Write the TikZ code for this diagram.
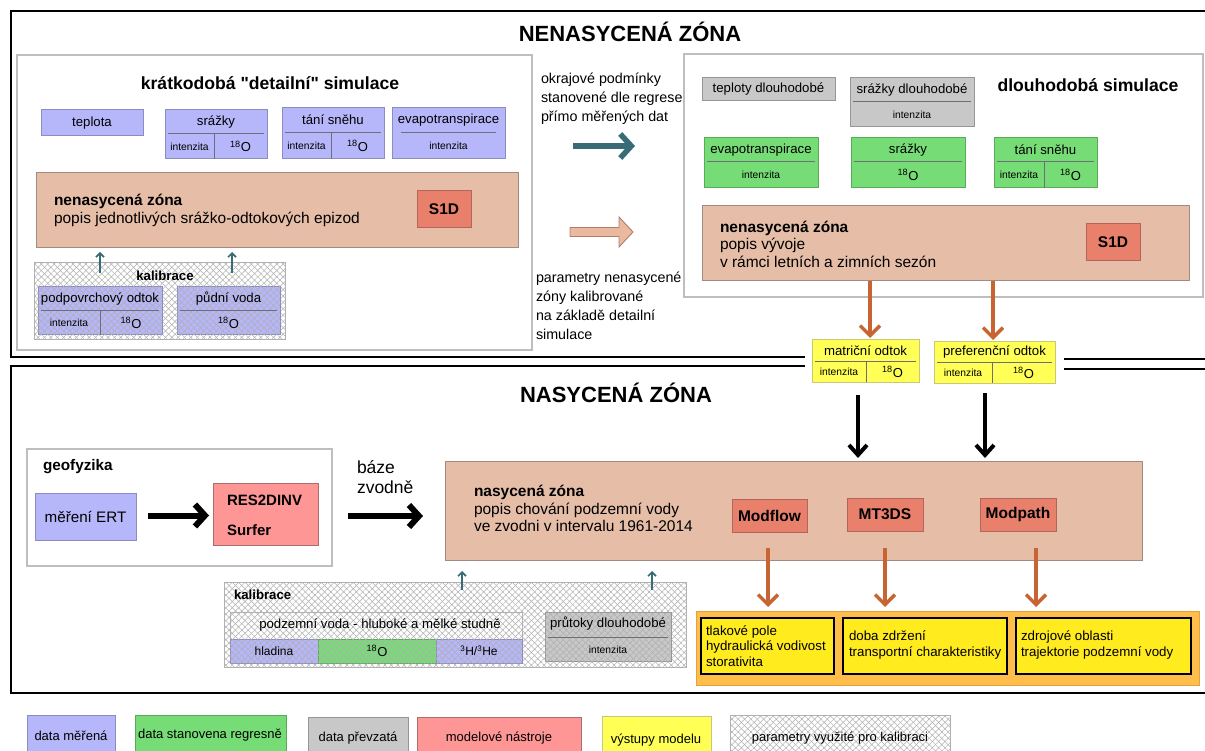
\documentclass[tikz,border=0pt]{standalone}
\usepackage{fontspec}
\setmainfont{Liberation Sans}[Ligatures=TeXOff]
\usetikzlibrary{arrows.meta,calc,patterns.meta}

\definecolor{cMeas}{RGB}{182,182,250}
\definecolor{cMeasD}{RGB}{140,140,190}
\definecolor{cRegr}{RGB}{118,220,118}
\definecolor{cRegrD}{RGB}{90,170,90}
\definecolor{cTaken}{RGB}{200,200,200}
\definecolor{cTakenD}{RGB}{150,150,150}
\definecolor{cPink}{RGB}{255,150,150}
\definecolor{cPinkD}{RGB}{170,110,110}
\definecolor{cTool}{RGB}{232,128,108}
\definecolor{cToolD}{RGB}{180,100,90}
\definecolor{cZone}{RGB}{230,190,168}
\definecolor{cZoneD}{RGB}{160,140,130}
\definecolor{cYel}{RGB}{255,255,85}
\definecolor{cYelD}{RGB}{200,200,120}
\definecolor{cOutY}{RGB}{255,235,30}
\definecolor{cOrBox}{RGB}{255,190,75}
\definecolor{cOrBoxD}{RGB}{230,160,60}
\definecolor{cTeal}{RGB}{55,108,118}
\definecolor{cOrArr}{RGB}{200,100,50}
\definecolor{cPeach}{RGB}{235,185,160}
\definecolor{cPeachD}{RGB}{180,125,105}
\definecolor{cHatch}{RGB}{175,175,175}
\definecolor{cPanel}{RGB}{190,190,190}
\definecolor{cDiv}{RGB}{110,110,120}

\newcommand{\fsz}[2]{\fontsize{#1pt}{#2pt}\selectfont}
\newcommand{\hdiv}[3][3]{\draw[div] ($(#2.north west)+(#1,#3)$) -- ($(#2.north east)+(-#1,#3)$);}
\newcommand{\vdiv}[3]{\draw[div] ($(#1.north west)+(#2,#3)$) -- ($(#1.south west)+(#2,0)$);}
\newcommand{\iso}{\textsuperscript{18}O}

\tikzset{
  bx/.style={inner sep=0pt, outer sep=0pt, anchor=north west, line width=1pt},
  meas/.style={bx, fill=cMeas, draw=cMeasD},
  regr/.style={bx, fill=cRegr, draw=cRegrD},
  taken/.style={bx, fill=cTaken, draw=cTakenD},
  pinkb/.style={bx, fill=cPink, draw=cPinkD},
  tool/.style={bx, fill=cTool, draw=cToolD, font=\bfseries\fsz{15.5}{18}},
  zone/.style={bx, fill=cZone, draw=cZoneD},
  yel/.style={bx, fill=cYel, draw=cYelD},
  outy/.style={bx, fill=cOutY, draw=black, line width=2.2pt},
  panel/.style={bx, fill=white, draw=cPanel, line width=1.3pt},
  hatched/.style={postaction={pattern={Lines[angle=45,distance=4.5pt,line width=0.5pt]}, pattern color=cHatch},
                  postaction={pattern={Lines[angle=-45,distance=4.5pt,line width=0.5pt]}, pattern color=cHatch}},
  hatchbox/.style={bx, fill=white, draw=gray!60, hatched},
  div/.style={draw=cDiv, line width=1pt},
  t/.style={inner sep=0pt, outer sep=0pt, font=\fsz{13.2}{16}},
  ts/.style={inner sep=0pt, outer sep=0pt, font=\fsz{10.3}{12}},
  tiso/.style={inner sep=0pt, outer sep=0pt, font=\fsz{13}{15}},
  lw/.style={inner sep=0pt, outer sep=0pt, anchor=west},
  frameline/.style={draw=black, line width=2.5pt},
  tealthin/.style={draw=cTeal, line width=1.6pt, -{Straight Barb[length=4pt,width=8pt]}},
  tealthick/.style={draw=cTeal, line width=5.5pt, -{Straight Barb[length=11pt,width=24pt]}},
  orarr/.style={draw=cOrArr, line width=3.5pt, -{Straight Barb[length=10pt,width=20pt]}},
  blkarr/.style={draw=black, line width=4pt, -{Straight Barb[length=10pt,width=18pt]}},
  blkH/.style={draw=black, line width=6pt, -{Straight Barb[length=10pt,width=22pt]}},
}

\begin{document}
\begin{tikzpicture}[x=1pt,y=-1pt]
\useasboundingbox (0,0) rectangle (1205,751);

% ---------- frames ----------
\draw[frameline] (1205,11) -- (11,11) -- (11,357) -- (805,357);
\draw[frameline] (1064,359) -- (1205,359);
\draw[frameline] (805,366) -- (11,366) -- (11,693) -- (1205,693);
\draw[frameline] (1064,369) -- (1205,369);

\node[font=\bfseries\fsz{22}{26}] (tNen) at (630,32) {NENASYCENÁ ZÓNA};
\node[font=\bfseries\fsz{22}{26}] (tNas) at (616,393) {NASYCENÁ ZÓNA};

% ---------- left panel: short-term simulation ----------
\node[panel, minimum width=515pt, minimum height=295pt] (lp) at (17,55) {};
\node[font=\bfseries\fsz{17.6}{21}] (lpT) at (270,83) {krátkodobá "detailní" simulace};

\node[meas, minimum width=102pt, minimum height=26pt, font=\fsz{13.2}{16}] (tep) at (41,110) {teplota};

\node[meas, minimum width=102pt, minimum height=49pt] (srL) at (165,110) {};
\node[t] (srLt) at ($(srL.north)+(0,12)$) {srážky};
\hdiv{srL}{24}
\vdiv{srL}{49}{24}
\node[ts] (srLa) at ($(srL.north west)+(24.5,36.5)$) {intenzita};
\node[tiso] (srLb) at ($(srL.north west)+(75.5,36.5)$) {\iso};

\node[meas, minimum width=102pt, minimum height=51pt] (tsL) at (282,108) {};
\node[t] (tsLt) at ($(tsL.north)+(0,12)$) {tání sněhu};
\hdiv{tsL}{25}
\vdiv{tsL}{49}{25}
\node[ts] (tsLa) at ($(tsL.north west)+(24.5,38)$) {intenzita};
\node[tiso] (tsLb) at ($(tsL.north west)+(75.5,38)$) {\iso};

\node[meas, minimum width=113pt, minimum height=51pt] (evL) at (392,108) {};
\node[t] (evLt) at ($(evL.north)+(0,12)$) {evapotranspirace};
\hdiv[9]{evL}{25}
\node[ts] (evLa) at ($(evL.north west)+(56.5,38)$) {intenzita};

\node[zone, minimum width=482pt, minimum height=75pt] (zoneL) at (36,173) {};
\node[lw, font=\bfseries\fsz{15.5}{18}] (zLa) at (54,201) {nenasycená zóna};
\node[lw, font=\fsz{15.5}{18}] (zLb) at (54,219) {popis jednotlivých srážko-odtokových epizod};
\node[tool, minimum width=54pt, minimum height=37pt] (s1dL) at (417,191) {S1D};

\node[hatchbox, minimum width=251pt, minimum height=77pt] (kalL) at (34,263) {};
\node[font=\bfseries\fsz{13.2}{16}, inner sep=0pt] (kalLt) at (165,276) {kalibrace};

\node[meas, hatched, minimum width=124pt, minimum height=48pt] (pod) at (38,287) {};
\node[t] (podt) at ($(pod.north)+(0,12)$) {podpovrchový odtok};
\hdiv{pod}{24}
\vdiv{pod}{62}{24}
\node[ts] (poda) at ($(pod.north west)+(31,36)$) {intenzita};
\node[tiso] (podb) at ($(pod.north west)+(93,36)$) {\iso};

\node[meas, hatched, minimum width=103pt, minimum height=48pt] (pud) at (177,287) {};
\node[t] (pudt) at ($(pud.north)+(0,12)$) {půdní voda};
\hdiv{pud}{24}
\node[tiso] (pudb) at ($(pud.north west)+(51.5,36)$) {\iso};

\draw[tealthin] ($(kalL.north west)+(66,10)$) -- ($(zoneL.south west)+(64,4)$);
\draw[tealthin] ($(kalL.north west)+(198,10)$) -- ($(zoneL.south west)+(196,4)$);

% ---------- middle texts and arrows ----------
\node[lw, align=left, font=\fsz{14.3}{19}] (okr) at (541,99) {okrajové podmínky\\stanovené dle regrese\\přímo měřených dat};
\coordinate (tA1) at (573,146);
\coordinate (tA2) at (635,146);
\draw[tealthick] (tA1) -- (tA2);

\draw[draw=cPeachD, fill=cPeach, line width=0.9pt]
  (570,227.5) -- (619,227.5) -- (619,217) -- (633,232) -- (619,247) -- (619,236.5) -- (570,236.5) -- cycle;

\node[lw, align=left, font=\fsz{14.3}{19}] (par) at (536,306) {parametry nenasycené\\zóny kalibrované\\na základě detailní\\simulace};

% ---------- right panel: long-term simulation ----------
\node[panel, minimum width=519pt, minimum height=243pt] (rp) at (684,54) {};
\node[font=\bfseries\fsz{17.6}{21}] (rpT) at (1088,85) {dlouhodobá simulace};

\node[taken, minimum width=133pt, minimum height=23pt, font=\fsz{13.2}{16}] (tepD) at (702,78) {teploty dlouhodobé};

\node[taken, minimum width=124pt, minimum height=49pt] (srD) at (850,78) {};
\node[t] (srDt) at ($(srD.north)+(0,12)$) {srážky dlouhodobé};
\hdiv{srD}{24}
\node[ts] (srDa) at ($(srD.north west)+(62,37)$) {intenzita};

\node[regr, minimum width=114pt, minimum height=50pt] (evR) at (704,138) {};
\node[t] (evRt) at ($(evR.north)+(0,12)$) {evapotranspirace};
\hdiv{evR}{24}
\node[ts] (evRa) at ($(evR.north west)+(57,37)$) {intenzita};

\node[regr, minimum width=114pt, minimum height=50pt] (srR) at (851,138) {};
\node[t] (srRt) at ($(srR.north)+(0,12)$) {srážky};
\hdiv{srR}{24}
\node[tiso] (srRb) at ($(srR.north west)+(57,37)$) {\iso};

\node[regr, minimum width=103pt, minimum height=50pt] (tsR) at (994,138) {};
\node[t] (tsRt) at ($(tsR.north)+(0,12)$) {tání sněhu};
\hdiv{tsR}{24}
\vdiv{tsR}{50}{24}
\node[ts] (tsRa) at ($(tsR.north west)+(25,37)$) {intenzita};
\node[tiso] (tsRb) at ($(tsR.north west)+(76.5,37)$) {\iso};

\node[zone, minimum width=487pt, minimum height=75pt] (zoneR) at (702,206) {};
\node[lw, font=\bfseries\fsz{15.5}{18}] (zRa) at (720,228) {nenasycená zóna};
\node[lw, font=\fsz{15.5}{18}] (zRb) at (720,245) {popis vývoje};
\node[lw, font=\fsz{15.5}{18}] (zRc) at (720,262) {v rámci letních a zimních sezón};
\node[tool, minimum width=54pt, minimum height=37pt] (s1dR) at (1086,224) {S1D};

% ---------- yellow outflow boxes ----------
\node[yel, minimum width=107pt, minimum height=42pt] (mat) at (812,340) {};
\node[t] (matt) at ($(mat.north)+(0,11)$) {matriční odtok};
\hdiv{mat}{21}
\vdiv{mat}{54}{21}
\node[ts] (mata) at ($(mat.north west)+(27,32)$) {intenzita};
\node[tiso] (matb) at ($(mat.north west)+(80.5,32)$) {\iso};

\node[yel, minimum width=121pt, minimum height=41pt] (pref) at (934,342) {};
\node[t] (preft) at ($(pref.north)+(0,10)$) {preferenční odtok};
\hdiv{pref}{20}
\vdiv{pref}{58}{20}
\node[ts] (prefa) at ($(pref.north west)+(29,31)$) {intenzita};
\node[tiso] (prefb) at ($(pref.north west)+(89.5,31)$) {\iso};

\draw[orarr] ($(zoneR.south west)+(168,0)$) -- ($(mat.north)+(4.5,-2)$);
\draw[orarr] ($(zoneR.south west)+(291,0)$) -- ($(pref.north)+(-1.5,-2)$);

% ---------- bottom: saturated zone ----------
\node[panel, minimum width=305pt, minimum height=117pt] (geo) at (27,449) {};
\node[lw, font=\bfseries\fsz{15.3}{18}] (geot) at (43,467) {geofyzika};
\node[meas, minimum width=101pt, minimum height=47pt, font=\fsz{15.2}{18}] (ert) at (35,493) {měření ERT};
\node[pinkb, minimum width=105pt, minimum height=62pt] (res) at (213,483) {};
\node[lw, font=\bfseries\fsz{15}{18}] (resa) at (227,500) {RES2DINV};
\node[lw, font=\bfseries\fsz{15}{18}] (resb) at (227,530) {Surfer};
\draw[blkH] ($(ert.east)+(12,-1)$) -- ($(res.west)+(-4,1.5)$);

\node[lw, align=left, font=\fsz{17.5}{20}] (baze) at (357,477) {báze\\zvodně};

\node[zone, minimum width=697pt, minimum height=99pt] (zoneB) at (445,461) {};
\draw[blkH] ($(geo.east)+(16,8.5)$) -- ($(zoneB.west)+(-22,5.5)$);
\node[lw, font=\bfseries\fsz{15.5}{18}] (zBa) at (474,492) {nasycená zóna};
\node[lw, font=\fsz{15.5}{18}] (zBb) at (474,510) {popis chování podzemní vody};
\node[lw, font=\fsz{15.5}{18}] (zBc) at (474,526) {ve zvodni v intervalu 1961-2014};

\node[tool, minimum width=75pt, minimum height=33pt] (modf) at (732,499) {Modflow};
\node[tool, minimum width=76pt, minimum height=33pt] (mt3) at (847,498) {MT3DS};
\node[tool, minimum width=76pt, minimum height=33pt] (modp) at (980,498) {Modpath};

\draw[blkarr] ($(mat.south)+(-7.5,13)$) -- ($(zoneB.north west)+(413,-3)$);
\draw[blkarr] ($(pref.south)+(-9.5,10)$) -- ($(zoneB.north west)+(540,-3)$);

% outputs
\node[bx, fill=cOrBox, draw=cOrBoxD, minimum width=503pt, minimum height=74pt] (outc) at (696,611) {};
\node[outy, minimum width=133pt, minimum height=56pt] (out1) at (701,618) {};
\node[outy, minimum width=164pt, minimum height=56pt] (out2) at (843,618) {};
\node[outy, minimum width=175pt, minimum height=56pt] (out3) at (1016,618) {};
\node[lw, align=left, font=\fsz{13.3}{15.5}] (o1t) at (706,646) {tlakové pole\\hydraulická vodivost\\storativita};
\node[lw, align=left, font=\fsz{13.3}{15.5}] (o2t) at (849,645) {doba zdržení\\transportní charakteristiky};
\node[lw, align=left, font=\fsz{13.3}{15.5}] (o3t) at (1021,645) {zdrojové oblasti\\trajektorie podzemní vody};

\draw[orarr] ($(modf.south)+(-1.5,16)$) -- ($(outc.north west)+(72,-4)$);
\draw[orarr] ($(mt3.south)+(0,17)$) -- ($(outc.north west)+(189,-4)$);
\draw[orarr] ($(modp.south)+(18,17)$) -- ($(outc.north west)+(340,-4)$);

% calibration (bottom)
\node[hatchbox, minimum width=462pt, minimum height=85pt] (kalB) at (224,582) {};
\node[lw, font=\bfseries\fsz{13.2}{16}] (kalBt) at (234,595) {kalibrace};
\node[bx, fill=white, draw=gray!60, hatched, minimum width=292pt, minimum height=51pt] (pv) at (230,612) {};
\node[t] (pvt) at ($(pv.north)+(4,13)$) {podzemní voda - hluboké a mělké studně};
\node[meas, hatched, minimum width=88pt, minimum height=24pt, font=\fsz{12}{14}] (hl) at (230,639) {hladina};
\node[regr, hatched, minimum width=118pt, minimum height=24pt, font=\fsz{13}{15}] (o18) at (318,639) {\iso};
\node[meas, hatched, minimum width=86pt, minimum height=24pt, font=\fsz{12}{14}] (he) at (436,639) {\textsuperscript{3}H/\textsuperscript{3}He};

\node[taken, hatched, minimum width=126pt, minimum height=49pt] (prut) at (545,612) {};
\node[t] (prutt) at ($(prut.north)+(0,12)$) {průtoky dlouhodobé};
\hdiv{prut}{25}
\node[ts] (pruta) at ($(prut.north west)+(63,38)$) {intenzita};

\draw[tealthin] ($(kalB.north west)+(238,8)$) -- ($(zoneB.south west)+(17,11)$);
\draw[tealthin] ($(kalB.north west)+(428,8)$) -- ($(zoneB.south west)+(207,11)$);

% ---------- legend ----------
\node[meas, minimum width=88pt, minimum height=45pt] (lg1) at (27,715) {};
\node[font=\fsz{13}{15}, inner sep=0pt] (lg1t) at (71,736) {data měřená};
\node[regr, minimum width=151pt, minimum height=45pt] (lg2) at (135,715) {};
\node[font=\fsz{13}{15}, inner sep=0pt] (lg2t) at (210,735) {data stanovena regresně};
\node[taken, minimum width=100pt, minimum height=43pt] (lg3) at (308,717) {};
\node[font=\fsz{13}{15}, inner sep=0pt] (lg3t) at (358,738) {data převzatá};
\node[pinkb, minimum width=164pt, minimum height=43pt] (lg4) at (417,717) {};
\node[font=\fsz{13}{15}, inner sep=0pt] (lg4t) at (499,738) {modelové nástroje};
\node[yel, minimum width=109pt, minimum height=44pt] (lg5) at (602,716) {};
\node[font=\fsz{13}{15}, inner sep=0pt] (lg5t) at (656,740) {výstupy modelu};
\node[hatchbox, minimum width=220pt, minimum height=45pt] (lg6) at (730,715) {};
\node[font=\fsz{13}{15}, inner sep=0pt] (lg6t) at (840,738) {parametry využité pro kalibraci};
\end{tikzpicture}
\end{document}
